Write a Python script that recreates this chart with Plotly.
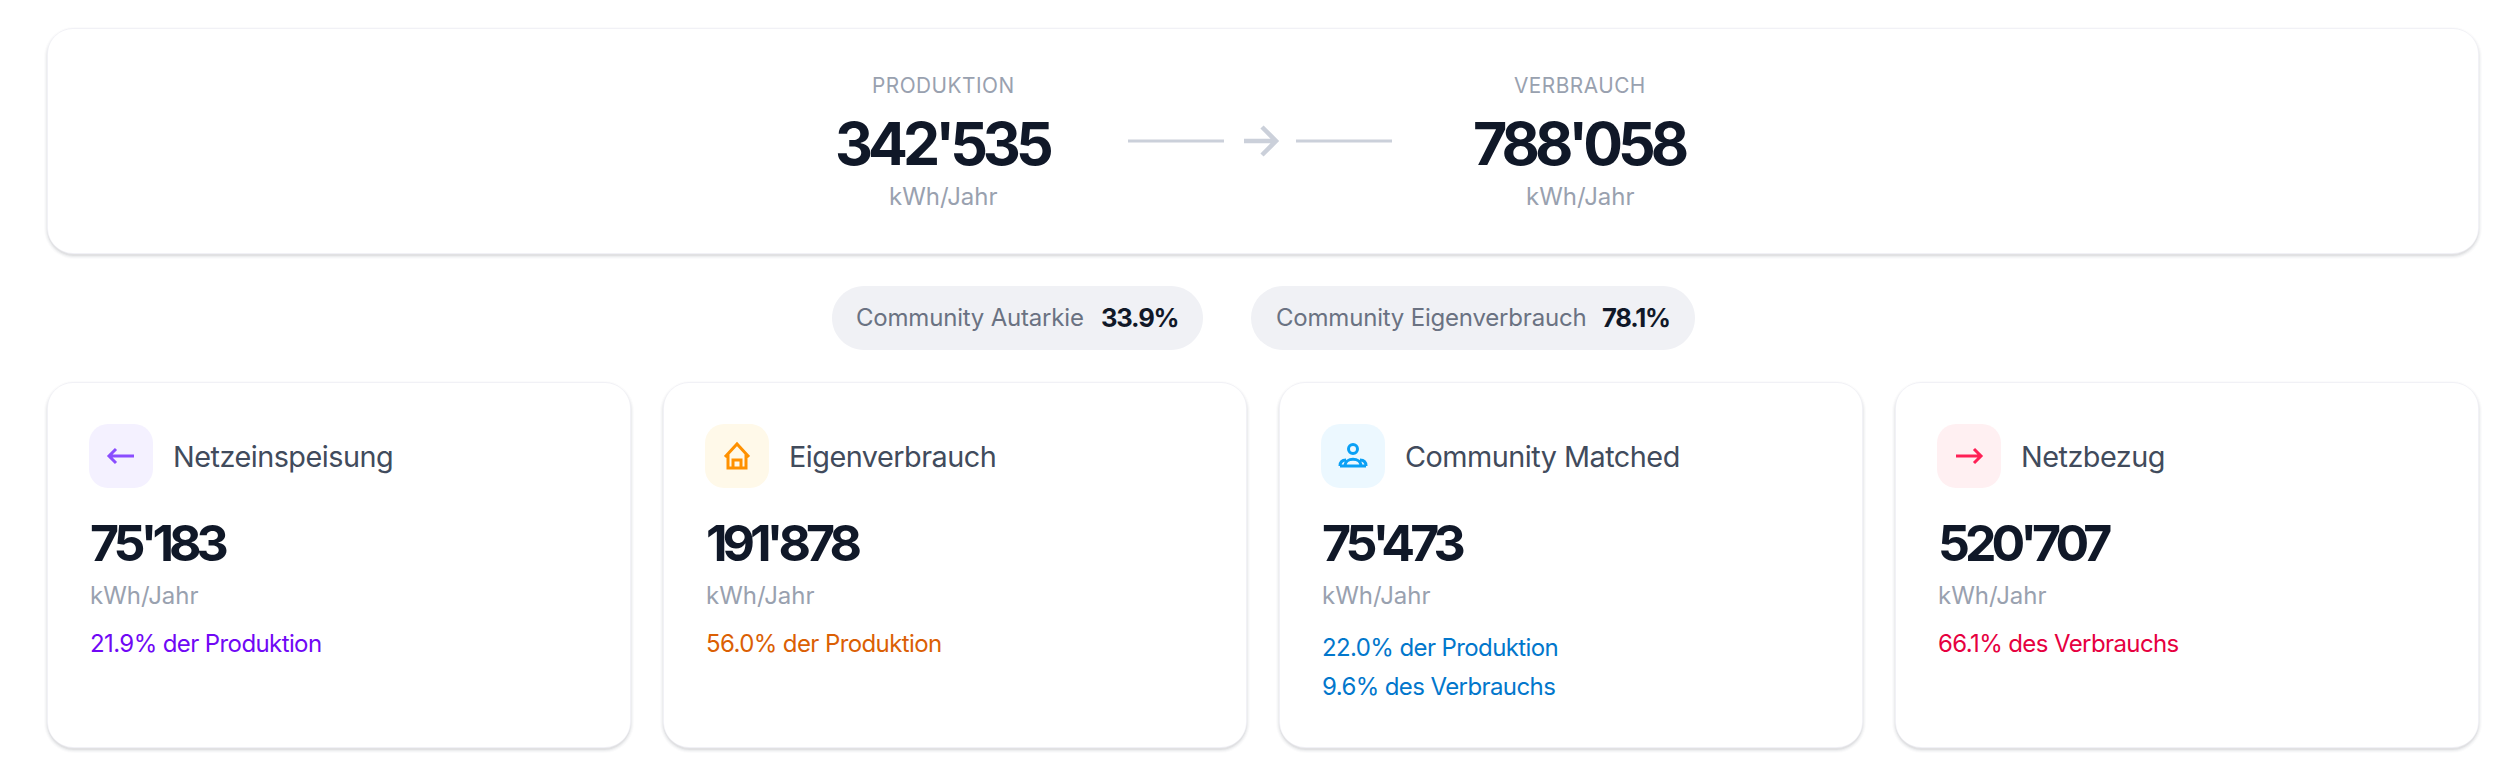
import plotly.graph_objects as go

# ---- chart content ----
flow_labels = ["PRODUKTION", "VERBRAUCH"]
flow_values = ["342'535", "788'058"]
flow_unit = "kWh/Jahr"
pill_labels = ["Community Autarkie", "Community Eigenverbrauch"]
pill_values = ["33.9%", "78.1%"]
card_titles = ["Netzeinspeisung", "Eigenverbrauch", "Community Matched", "Netzbezug"]
card_values = ["75'183", "191'878", "75'473", "520'707"]
card_notes = [["21.9% der Produktion"], ["56.0% der Produktion"],
              ["22.0% der Produktion", "9.6% des Verbrauchs"], ["66.1% des Verbrauchs"]]

# ---- styling ----
note_colors = ["#7008F5", "#DB5F04", "#0277CC", "#E6003F"]
icon_colors = ["#8A4DFF", "#FF9100", "#0AA0F5", "#FF2056"]
icon_bgs = ["#F4F1FF", "#FFF9E9", "#ECF8FF", "#FFF0F2"]
INK, MID, SOFT, TITLE = "#101828", "#6A7282", "#99A1AF", "#414B5C"
FONT = "Inter"

W, H = 2508, 770
shapes, anns = [], []


def rrect(x0, y0, x1, y1, r):
    k = r * 0.45
    return (f"M{x0+r},{y0} L{x1-r},{y0} C{x1-k},{y0} {x1},{y0+k} {x1},{y0+r} L{x1},{y1-r} "
            f"C{x1},{y1-k} {x1-k},{y1} {x1-r},{y1} L{x0+r},{y1} C{x0+k},{y1} {x0},{y1-k} {x0},{y1-r} "
            f"L{x0},{y0+r} C{x0},{y0+k} {x0+k},{y0} {x0+r},{y0} Z")


def box(x0, y0, x1, y1, r, fill):
    shapes.append(dict(type="path", xref="x", yref="y", path=rrect(x0, y0, x1, y1, r),
                       fillcolor=fill, line=dict(width=0), layer="below"))


def card(x0, y0, x1, y1, r=26):
    for g, a in ((4, .014), (3, .024), (2, .035), (1, .055)):
        box(x0 - g, y0 - g + 2, x1 + g, y1 + g + 2, r + g, f"rgba(16,24,40,{a})")
    box(x0 - 1, y0 - 1, x1 + 1, y1 + 1, r + 1, "#F1F1F6")
    box(x0, y0, x1, y1, r - 1, "#FFFFFF")


def stroke(path, color, width):
    shapes.append(dict(type="path", xref="x", yref="y", path=path,
                       line=dict(color=color, width=width), layer="above"))


def circle(cx, cy, r):
    k = r * 0.55
    return (f"M{cx+r},{cy} C{cx+r},{cy+k} {cx+k},{cy+r} {cx},{cy+r} C{cx-k},{cy+r} {cx-r},{cy+k} {cx-r},{cy} "
            f"C{cx-r},{cy-k} {cx-k},{cy-r} {cx},{cy-r} C{cx+k},{cy-r} {cx+r},{cy-k} {cx+r},{cy} Z")


def text(x, y, s, size, color, anchor="left", weight=400, spacing=0):
    body = f'<span style="letter-spacing:{spacing}px">{s}</span>' if spacing else s
    anns.append(dict(x=x, y=y, xref="x", yref="y", text=body, showarrow=False, xanchor=anchor,
                     yanchor="middle", borderpad=0,
                     font=dict(family=FONT, size=size, color=color, weight=weight)))


# top card
card(48, 29, 2478, 253)
for cx, lab, val in zip((943, 1580), flow_labels, flow_values):
    text(cx, 85, lab, 20.8, SOFT, "center", spacing=0.5)
    text(cx, 143, val, 59, INK, "center", 700, spacing=-5)
    text(cx, 196, flow_unit, 24, SOFT, "center")
stroke("M1128,141 L1224,141", "#CBD0DA", 3)
stroke("M1296,141 L1392,141", "#CBD0DA", 3)
stroke("M1244,141 L1276,141 M1262,127 L1276,141 L1262,155", "#CBD0DA", 4.5)

# pills
for (x0, x1), lab, val, lx, vx in zip(((832, 1203), (1251, 1695)), pill_labels, pill_values,
                                      (855, 1275), (1179, 1671)):
    box(x0, 286, x1, 350, 32, "#F0F1F5")
    text(lx, 317, lab, 24, MID, spacing=-0.2)
    text(vx, 317, val, 25.6, INK, "right", 700, spacing=-1.2)

# cards
for i, (x0, x1) in enumerate(((48, 630), (664, 1246), (1280, 1862), (1896, 2478))):
    card(x0, 383, x1, 747)
    tx = x0 + 41
    box(tx, 424, tx + 64, 488, 19, icon_bgs[i])
    c, ix, iy = icon_colors[i], tx + 32, 456
    if i == 0:
        stroke(f"M{ix+13},{iy} L{ix-12},{iy} M{ix-5},{iy-7} L{ix-12},{iy} L{ix-5},{iy+7}", c, 3)
    elif i == 3:
        stroke(f"M{ix-13},{iy} L{ix+12},{iy} M{ix+5},{iy-7} L{ix+12},{iy} L{ix+5},{iy+7}", c, 3)
    elif i == 1:
        stroke(f"M{ix-12},{iy+1} L{ix},{iy-12} L{ix+12},{iy+1} M{ix-9},{iy-2} L{ix-9},{iy+12} L{ix+9},{iy+12} "
               f"L{ix+9},{iy-2} M{ix-4},{iy+12} L{ix-4},{iy+4} L{ix+4},{iy+4} L{ix+4},{iy+12}", c, 3)
    else:
        stroke(circle(ix, iy - 7, 4.5) +
               f" M{ix-13},{iy+10} L{ix+13},{iy+10} "
               f"M{ix-8},{iy+10} C{ix-8},{iy+1} {ix+8},{iy+1} {ix+8},{iy+10} "
               f"M{ix-13},{iy+10} C{ix-13},{iy+5} {ix-10},{iy+4} {ix-7},{iy+4} "
               f"M{ix+13},{iy+10} C{ix+13},{iy+5} {ix+10},{iy+4} {ix+7},{iy+4}", c, 3)
    text(tx + 83, 456, card_titles[i], 28.8, TITLE, spacing=-0.5)
    text(tx, 543, card_values[i], 50, INK, "left", 700, spacing=-5)
    text(tx, 595, flow_unit, 24, SOFT)
    notes = card_notes[i]
    ys = (647, 686) if len(notes) == 2 else (643,)
    for n, y in zip(notes, ys):
        text(tx, y, n, 24, note_colors[i], spacing=-0.6)

fig = go.Figure()
fig.update_layout(width=W, height=H, margin=dict(l=0, r=0, t=0, b=0), paper_bgcolor="#FFFFFF",
                  plot_bgcolor="#FFFFFF", shapes=shapes, annotations=anns, showlegend=False,
                  font=dict(family=FONT),
                  xaxis=dict(range=[0, W], visible=False, fixedrange=True),
                  yaxis=dict(range=[H, 0], visible=False, fixedrange=True))
fig.write_html("out.html", config=dict(displayModeBar=False),
               post_script="document.body.style.margin='0';")
